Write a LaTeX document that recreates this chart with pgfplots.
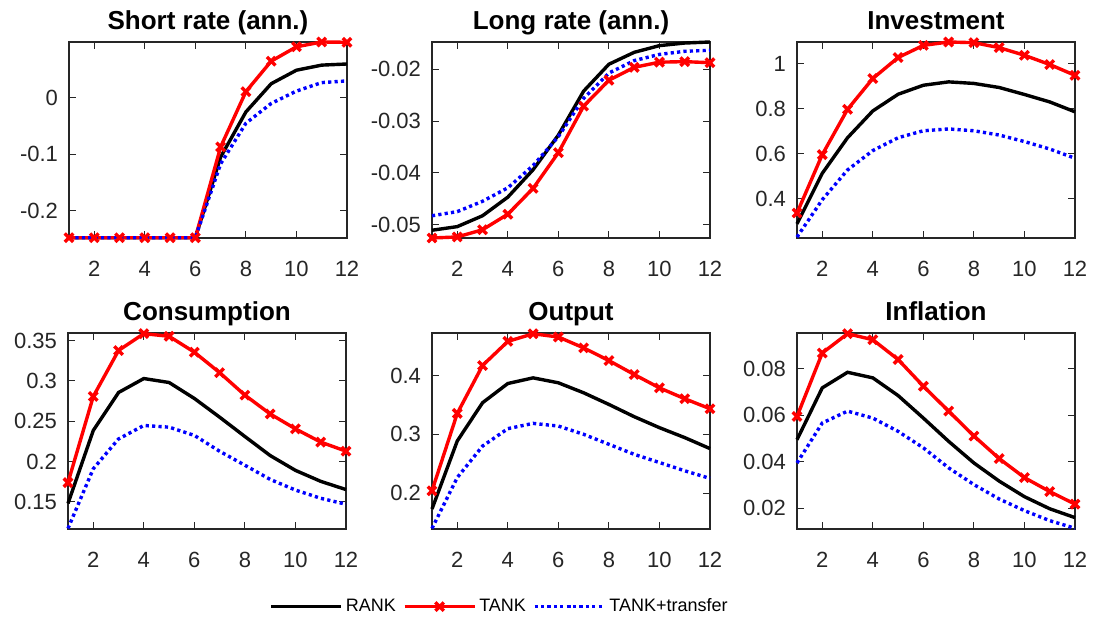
\documentclass[border=0pt]{standalone}
\usepackage{pgfplots}
\pgfplotsset{compat=1.18}
\usepackage{fontspec}
\setmainfont{Liberation Sans}
\definecolor{axgray}{RGB}{38,38,38}
\pgfplotsset{
  irf/.style={
    scale only axis, width=139pt, height=98pt,
    xmin=1, xmax=12, xtick={2,4,...,12},
    tick align=inside, major tick length=3.5pt,
    axis line style={color=axgray, line width=0.55pt},
    every tick/.style={color=axgray, line width=0.55pt},
    tick label style={font=\fontsize{11}{13}\selectfont, color=axgray},
    xticklabel style={yshift=-8pt},
    yticklabel style={xshift=-2pt},
    /pgf/number format/assume math mode=true,
    /pgf/number format/fixed,
    scaled y ticks=false,
    title style={font=\fontsize{13}{15}\selectfont\bfseries, at={(0.5,1)}, anchor=base, yshift=0pt, inner sep=0pt},
    clip=false,
    anchor=north west,
  },
  rank/.style={black, line width=1.7pt, mark=none},
  tank/.style={red, line width=1.7pt, mark=x, mark size=3pt, mark options={line width=1.7pt, solid}},
  tr/.style={blue, line width=1.7pt, dash pattern=on 1.6pt off 1.6pt, mark=none},
}
\begin{document}
\begin{tikzpicture}
\useasboundingbox (0,0) rectangle (547pt,-312pt);
% Short rate
\begin{axis}[irf, at={(34.5pt,-21pt)}, title={Short rate (ann.)}, ymin=-0.2485, ymax=0.099, ytick={-0.2,-0.1,0}]
\addplot[rank] coordinates {(1,-0.248)(2,-0.248)(3,-0.248)(4,-0.248)(5,-0.248)(6,-0.248)(7,-0.105)(8,-0.025)(9,0.025)(10,0.049)(11,0.058)(12,0.060)};
\addplot[tank] coordinates {(1,-0.248)(2,-0.248)(3,-0.248)(4,-0.248)(5,-0.248)(6,-0.248)(7,-0.087)(8,0.011)(9,0.065)(10,0.0905)(11,0.099)(12,0.0985)};
\addplot[tr] coordinates {(1,-0.248)(2,-0.248)(3,-0.248)(4,-0.248)(5,-0.248)(6,-0.248)(7,-0.117)(8,-0.045)(9,-0.010)(10,0.012)(11,0.027)(12,0.030)};
\end{axis}
% Long rate
\begin{axis}[irf, at={(216pt,-21pt)}, title={Long rate (ann.)}, ymin=-0.0526, ymax=-0.0147, ytick={-0.05,-0.04,-0.03,-0.02}]
\addplot[rank] coordinates {(1,-0.0511)(2,-0.0504)(3,-0.0483)(4,-0.0447)(5,-0.0394)(6,-0.0327)(7,-0.0242)(8,-0.0190)(9,-0.0167)(10,-0.0154)(11,-0.0149)(12,-0.0147)};
\addplot[tank] coordinates {(1,-0.0526)(2,-0.0524)(3,-0.0510)(4,-0.0480)(5,-0.0430)(6,-0.0361)(7,-0.0271)(8,-0.0221)(9,-0.0196)(10,-0.0186)(11,-0.0185)(12,-0.0187)};
\addplot[tr] coordinates {(1,-0.0483)(2,-0.0475)(3,-0.0455)(4,-0.0429)(5,-0.0386)(6,-0.0330)(7,-0.0256)(8,-0.0207)(9,-0.0183)(10,-0.0171)(11,-0.0165)(12,-0.0163)};
\end{axis}
% Investment
\begin{axis}[irf, at={(398.5pt,-21pt)}, title={Investment}, ymin=0.226, ymax=1.096, ytick={0.4,0.6,0.8,1}]
\addplot[rank] coordinates {(1,0.289)(2,0.513)(3,0.671)(4,0.790)(5,0.864)(6,0.904)(7,0.919)(8,0.912)(9,0.894)(10,0.863)(11,0.830)(12,0.786)};
\addplot[tank] coordinates {(1,0.337)(2,0.596)(3,0.797)(4,0.934)(5,1.027)(6,1.081)(7,1.096)(8,1.093)(9,1.071)(10,1.037)(11,0.996)(12,0.948)};
\addplot[tr] coordinates {(1,0.230)(2,0.396)(3,0.528)(4,0.614)(5,0.671)(6,0.702)(7,0.710)(8,0.702)(9,0.683)(10,0.654)(11,0.621)(12,0.580)};
\end{axis}
% Consumption
\begin{axis}[irf, at={(34pt,-166.5pt)}, title={Consumption}, ymin=0.1163, ymax=0.3594, ytick={0.15,0.2,0.25,0.3,0.35}]
\addplot[rank] coordinates {(1,0.148)(2,0.2385)(3,0.2856)(4,0.3029)(5,0.298)(6,0.2782)(7,0.255)(8,0.231)(9,0.2074)(10,0.189)(11,0.1754)(12,0.1652)};
\addplot[tank] coordinates {(1,0.1738)(2,0.2807)(3,0.3377)(4,0.3586)(5,0.3553)(6,0.3356)(7,0.3102)(8,0.2823)(9,0.259)(10,0.2405)(11,0.2241)(12,0.2128)};
\addplot[tr] coordinates {(1,0.117)(2,0.191)(3,0.228)(4,0.2447)(5,0.2426)(6,0.2324)(7,0.2127)(8,0.1954)(9,0.1778)(10,0.1646)(11,0.1544)(12,0.147)};
\end{axis}
% Output
\begin{axis}[irf, at={(216pt,-166.5pt)}, title={Output}, ymin=0.139, ymax=0.4723, ytick={0.2,0.3,0.4},
  legend style={at={(-0.586,-0.396)}, anchor=west, draw=none, fill=none, inner sep=0pt, font=\fontsize{9}{11}\selectfont, nodes={inner sep=1.5pt}, /tikz/every even column/.append style={column sep=2pt}},
  legend columns=3,
  legend image code/.code={\draw[#1, mark repeat=2, mark phase=2] plot coordinates {(0pt,0pt) (17.5pt,0pt) (35pt,0pt)};}]
\addplot[rank] coordinates {(1,0.173)(2,0.2887)(3,0.3537)(4,0.3864)(5,0.396)(6,0.3876)(7,0.3706)(8,0.3508)(9,0.330)(10,0.3113)(11,0.2944)(12,0.2757)};
\addplot[tank] coordinates {(1,0.204)(2,0.3356)(3,0.417)(4,0.458)(5,0.471)(6,0.4655)(7,0.447)(8,0.4254)(9,0.4017)(10,0.379)(11,0.3605)(12,0.3435)};
\addplot[tr] coordinates {(1,0.140)(2,0.2265)(3,0.280)(4,0.3096)(5,0.3186)(6,0.314)(7,0.300)(8,0.283)(9,0.266)(10,0.252)(11,0.238)(12,0.225)};
\legend{RANK,TANK,TANK+transfer}
\end{axis}
% Inflation
\begin{axis}[irf, at={(398.5pt,-166.5pt)}, title={Inflation}, ymin=0.011, ymax=0.0953, ytick={0.02,0.04,0.06,0.08}]
\addplot[rank] coordinates {(1,0.0494)(2,0.0717)(3,0.0784)(4,0.0760)(5,0.0684)(6,0.0587)(7,0.0487)(8,0.0394)(9,0.0316)(10,0.0249)(11,0.0197)(12,0.0159)};
\addplot[tank] coordinates {(1,0.0594)(2,0.0867)(3,0.0950)(4,0.0924)(5,0.0839)(6,0.0724)(7,0.0617)(8,0.0510)(9,0.0413)(10,0.0331)(11,0.0271)(12,0.0217)};
\addplot[tr] coordinates {(1,0.0394)(2,0.0566)(3,0.0617)(4,0.0587)(5,0.0530)(6,0.0459)(7,0.0373)(8,0.0301)(9,0.0239)(10,0.0189)(11,0.0146)(12,0.0113)};
\end{axis}
\end{tikzpicture}
\end{document}
